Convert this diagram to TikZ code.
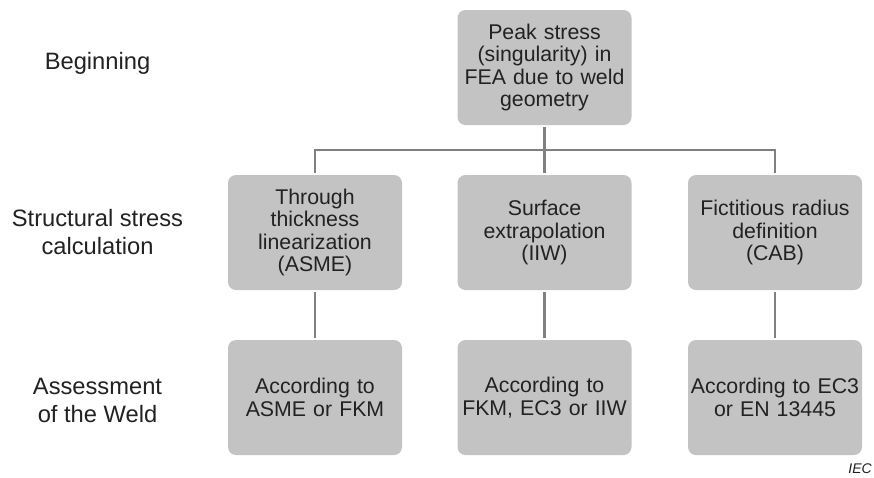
\documentclass[tikz,border=0pt]{standalone}
\usepackage{fontspec}
\setmainfont{Liberation Sans}
\definecolor{boxgray}{HTML}{C3C3C3}
\definecolor{linegray}{HTML}{808080}
\definecolor{txt}{HTML}{222222}
\tikzset{
  box/.style={rectangle, rounded corners=8pt, fill=boxgray, minimum width=174pt, minimum height=115pt,
    text width=172pt, align=center, inner sep=0pt, text=txt, font=\fontsize{21.3}{22.5}\selectfont},
  lbl/.style={align=center, text=txt, font=\fontsize{23.7}{28}\selectfont},
  conn/.style={draw=linegray, line width=2.6pt}
}
\begin{document}
\begin{tikzpicture}[x=1pt,y=-1pt]
\useasboundingbox (0,0) rectangle (874,477);
\fill[white] (0,0) rectangle (874,477);
% boxes
\node[box] (top) at (544.5,67.5) {Peak stress\\(singularity) in\\FEA due to weld\\geometry};
\node[box] (m1) at (315,232.5) {Through\\thickness\\linearization\\(ASME)};
\node[box] (m2) at (544.5,232.5) {Surface\\extrapolation\\(IIW)};
\node[box] (m3) at (775,232.5) {Fictitious radius\\definition\\(CAB)};
\node[box] (b1) at (315,397.5) {According to\\ASME or FKM};
\node[box] (b2) at (544.5,397.5) {According to\\FKM, EC3 or IIW};
\node[box] (b3) at (775,397.5) {According to EC3\\or EN 13445};
% labels
\node[lbl] (l1) at (97.5,63) {Beginning};
\node[lbl] (l2) at (97.5,232) {Structural stress\\calculation};
\node[lbl] (l3) at (97.5,400) {Assessment\\of the Weld};
\node[font=\fontsize{14}{16}\selectfont\itshape, text=txt, anchor=east, inner sep=0pt] (iec) at (872,469) {IEC};
% connectors
\coordinate (j) at (544.5,150);
\coordinate (jl) at (315,150);
\coordinate (jr) at (775,150);
\draw[conn, shorten <=2pt] (top.south) -- (j);
\draw[conn] ([xshift=-1.3pt]jl) -- ([xshift=1.3pt]jr);
\draw[conn, shorten >=2pt] ([yshift=-1.3pt]jl) -- (m1.north);
\draw[conn, shorten >=2pt] (j) -- (m2.north);
\draw[conn, shorten >=2pt] ([yshift=-1.3pt]jr) -- (m3.north);
\draw[conn, shorten <=2pt, shorten >=2pt] (m1.south) -- (b1.north);
\draw[conn, shorten <=2pt, shorten >=2pt] (m2.south) -- (b2.north);
\draw[conn, shorten <=2pt, shorten >=2pt] (m3.south) -- (b3.north);
\end{tikzpicture}
\end{document}
